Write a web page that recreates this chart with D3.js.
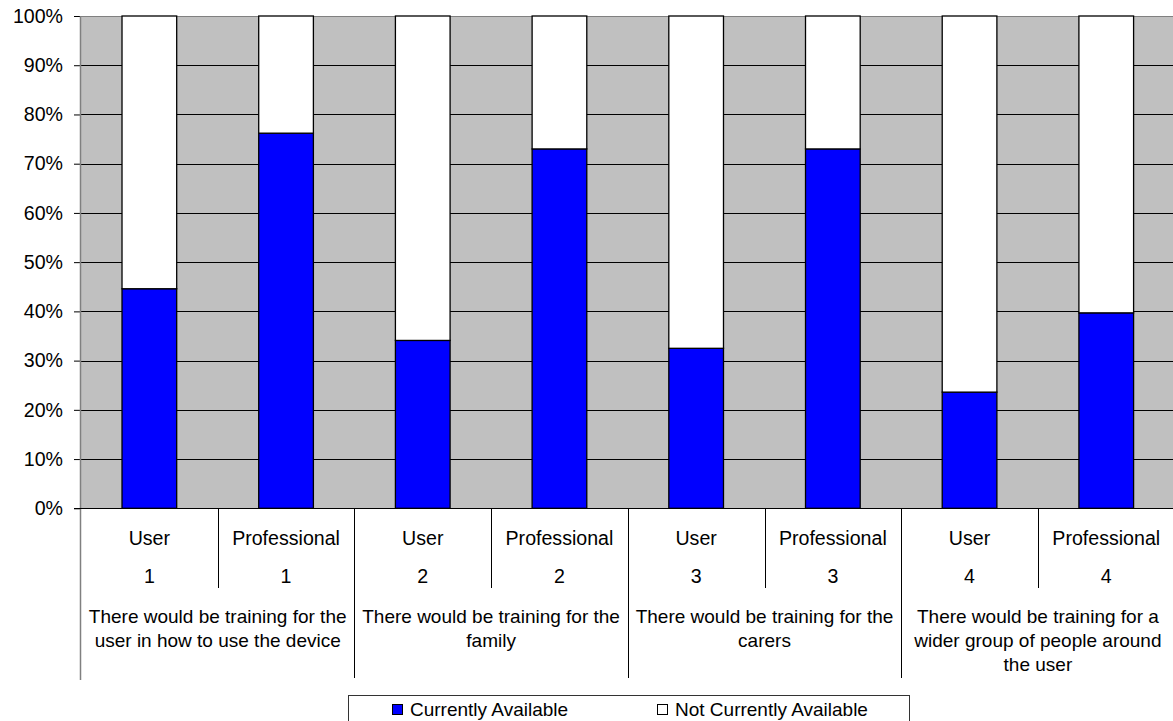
<!DOCTYPE html>
<html>
<head>
<meta charset="utf-8">
<script src="https://cdn.jsdelivr.net/npm/d3@7"></script>
<style>
  html, body { margin: 0; padding: 0; background: #ffffff; }
  svg { display: block; font-family: "Liberation Sans", Arial, sans-serif; }
</style>
</head>
<body>
<svg id="chart" width="1173" height="721"></svg>
<script>
// ---- data ----
const respondents = ["User", "Professional", "User", "Professional", "User", "Professional", "User", "Professional"];
const questionNumbers = ["1", "1", "2", "2", "3", "3", "4", "4"];
const groupLabels = [
  ["There would be training for the", "user in how to use the device"],
  ["There would be training for the", "family"],
  ["There would be training for the", "carers"],
  ["There would be training for a", "wider group of people around", "the user"]
];
const currentlyAvailable = [44.6, 76.2, 34.1, 73.0, 32.5, 73.0, 23.6, 39.7];
const notCurrentlyAvailable = [55.4, 23.8, 65.9, 27.0, 67.5, 27.0, 76.4, 60.3];
const yTicks = [0, 10, 20, 30, 40, 50, 60, 70, 80, 90, 100];
const seriesNames = ["Currently Available", "Not Currently Available"];

// ---- layout ----
const svg = d3.select("#chart");
const pLeft = 81, pRight = 1174.6, pTop = 16, pBottom = 508.3;
const fontSize = 19;
const fontSizeAxis = 19.6;

const x = d3.scaleBand().domain(d3.range(respondents.length)).range([pLeft, pRight]).padding(0);
const y = d3.scaleLinear().domain([0, 100]).range([pBottom, pTop]);
const step = x.step();
const barW = step / 2.5;
const barX = i => x(i) + (step - barW) / 2;

// plot background
svg.append("rect").attr("x", pLeft).attr("y", pTop).attr("width", pRight - pLeft).attr("height", pBottom - pTop)
  .attr("fill", "#c0c0c0");

// gridlines
svg.append("g").selectAll("line").data(yTicks.filter(d => d > 0)).join("line")
  .attr("x1", pLeft).attr("x2", pRight)
  .attr("y1", d => Math.round(y(d)) + 0.5).attr("y2", d => Math.round(y(d)) + 0.5)
  .attr("stroke", d => d === 100 ? "#808080" : "#000").attr("stroke-width", 1);

// stacked bars
const stacks = [
  { name: seriesNames[0], values: currentlyAvailable, base: i => 0, fill: "#0000ff" },
  { name: seriesNames[1], values: notCurrentlyAvailable, base: i => currentlyAvailable[i], fill: "#ffffff" }
];
stacks.forEach(s => {
  svg.append("g").selectAll("rect").data(s.values).join("rect")
    .attr("x", (d, i) => barX(i))
    .attr("width", barW)
    .attr("y", (d, i) => y(s.base(i) + d))
    .attr("height", (d, i) => y(s.base(i)) - y(s.base(i) + d))
    .attr("fill", s.fill)
    .attr("stroke", "#000").attr("stroke-width", 1.3);
});

// y axis
const yAxis = d3.axisLeft(y).tickValues(yTicks).tickFormat(d => d + "%").tickSize(7).tickPadding(11);
const gy = svg.append("g").attr("transform", `translate(${pLeft},0)`).call(yAxis);
gy.select(".domain").remove();
gy.selectAll(".tick line").attr("stroke", "#000");
gy.selectAll(".tick text").attr("font-size", fontSizeAxis).attr("fill", "#000")
  .attr("font-family", "'Liberation Sans', Arial, sans-serif");

// left axis line & bottom axis line
svg.append("line").attr("x1", pLeft - 0.5).attr("x2", pLeft - 0.5).attr("y1", pTop).attr("y2", 680)
  .attr("stroke", "#808080").attr("stroke-width", 1.5);
svg.append("line").attr("x1", pLeft - 7).attr("x2", pRight).attr("y1", Math.round(pBottom) + 0.5).attr("y2", Math.round(pBottom) + 0.5)
  .attr("stroke", "#000").attr("stroke-width", 1);

// category separators
const boundaries = d3.range(1, respondents.length);
svg.append("g").selectAll("line").data(boundaries).join("line")
  .attr("x1", d => Math.round(x(d)) + 0.5).attr("x2", d => Math.round(x(d)) + 0.5)
  .attr("y1", pBottom).attr("y2", d => d % 2 === 0 ? 678 : 588)
  .attr("stroke", "#000").attr("stroke-width", 1);

// category labels
const lbl = svg.append("g").attr("font-size", fontSize).attr("fill", "#000").attr("text-anchor", "middle");
lbl.selectAll("text.resp").data(respondents).join("text").attr("class", "resp")
  .attr("font-size", fontSizeAxis)
  .attr("x", (d, i) => x(i) + step / 2).attr("y", 545).text(d => d);
lbl.selectAll("text.num").data(questionNumbers).join("text").attr("class", "num")
  .attr("font-size", fontSizeAxis)
  .attr("x", (d, i) => x(i) + step / 2).attr("y", 583).text(d => d);
groupLabels.forEach((lines, g) => {
  const cx = x(g * 2) + step;
  lines.forEach((ln, k) => {
    lbl.append("text").attr("x", cx).attr("y", 623 + k * 24).text(ln);
  });
});

// legend
const leg = svg.append("g");
leg.append("rect").attr("x", 348.5).attr("y", 695.5).attr("width", 561).attr("height", 30)
  .attr("fill", "#fff").attr("stroke", "#333").attr("stroke-width", 1);
const legX = [392, 657];
seriesNames.forEach((n, i) => {
  leg.append("rect").attr("x", legX[i] + 0.5).attr("y", 704.5).attr("width", 10).attr("height", 10)
    .attr("fill", stacks[i].fill).attr("stroke", "#000").attr("stroke-width", 1);
  leg.append("text").attr("x", legX[i] + 18).attr("y", 716).attr("font-size", fontSize).attr("fill", "#000").text(n);
});
</script>
</body>
</html>
